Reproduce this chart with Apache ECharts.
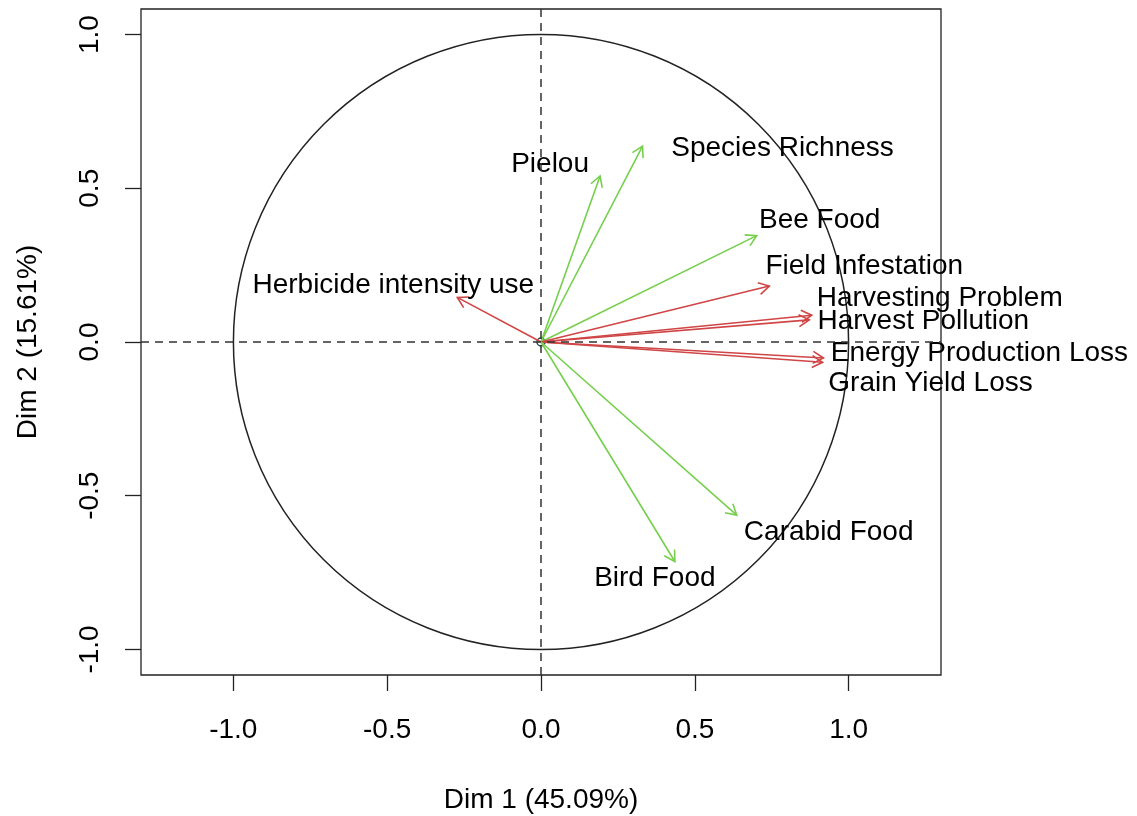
<!DOCTYPE html>
<html>
<head>
<meta charset="utf-8">
<title>Variables factor map</title>
<script src="https://cdn.jsdelivr.net/npm/echarts@6.0.0/dist/echarts.min.js"></script>
<style>
html, body { margin: 0; padding: 0; background: #fff; }
#main { width: 1137px; height: 816px; }
</style>
</head>
<body>
<div id="main"></div>
<script>
// variable coordinates on dim 1 / dim 2
var varNames = ['Pielou', 'Species Richness', 'Bee Food', 'Field Infestation', 'Harvesting Problem',
	'Harvest Pollution', 'Energy Production Loss', 'Grain Yield Loss', 'Herbicide intensity use',
	'Carabid Food', 'Bird Food']
var dim1 = [0.192, 0.330, 0.701, 0.742, 0.880, 0.872, 0.918, 0.915, -0.272, 0.636, 0.435]
var dim2 = [0.540, 0.637, 0.346, 0.182, 0.087, 0.072, -0.052, -0.066, 0.145, -0.563, -0.714]
var varGroup = ['bio', 'bio', 'bio', 'agro', 'agro', 'agro', 'agro', 'agro', 'agro', 'bio', 'bio']
var tickValues = [-1, -0.5, 0, 0.5, 1]
var xTitle = 'Dim 1 (45.09%)'
var yTitle = 'Dim 2 (15.61%)'

// where each label sits, in pixels from the arrow tip to the text centre
var labelShift = [[-50, -12], [140, 2], [63, -15], [95, -20], [128, -17], [114, 1],
	[156, -5], [108, 21], [-64, -12], [92, 17], [-20, 17]]

var groupColor = { bio: '#76cf4c', agro: '#d04545' }
var font = '"Liberation Sans", Arial, sans-serif'

var myChart = echarts.init(document.getElementById('main'))

var arrowData = dim1.map(function (x, i) { return [x, dim2[i], i] })

function renderArrow(params, api) {
	var i = api.value(2)
	var p0 = api.coord([0, 0])
	var p1 = api.coord([api.value(0), api.value(1)])
	var a = Math.atan2(p1[1] - p0[1], p1[0] - p0[0])
	var len = 12, spread = Math.PI / 6
	var h1 = [p1[0] - len * Math.cos(a - spread), p1[1] - len * Math.sin(a - spread)]
	var h2 = [p1[0] - len * Math.cos(a + spread), p1[1] - len * Math.sin(a + spread)]
	var col = groupColor[varGroup[i]]
	return {
		type: 'group',
		children: [
			{ type: 'line', shape: { x1: p0[0], y1: p0[1], x2: p1[0], y2: p1[1] },
				style: { stroke: col, lineWidth: 1.6 } },
			{ type: 'polyline', shape: { points: [h1, p1, h2] },
				style: { stroke: col, lineWidth: 1.6, fill: null } },
			{ type: 'text', x: p1[0] + labelShift[i][0], y: p1[1] + labelShift[i][1],
				style: { text: varNames[i], fill: '#000', fontSize: 28, fontFamily: font,
					align: 'center', verticalAlign: 'middle' } }
		]
	}
}

function renderCircle(params, api) {
	var c = api.coord([0, 0])
	var s = api.size([1, 1])
	return {
		type: 'group',
		children: [
			{ type: 'circle', shape: { cx: c[0], cy: c[1], r: (s[0] + s[1]) / 2 },
				style: { stroke: '#222', lineWidth: 1.5, fill: null } },
			{ type: 'circle', shape: { cx: c[0], cy: c[1], r: 4 },
				style: { stroke: '#1d4b4b', lineWidth: 1.5, fill: null } }
		]
	}
}

var axisText = { color: '#000', fontSize: 28, fontFamily: font }

var option = {
	animation: false,
	grid: { left: 141, right: 196, top: 9, bottom: 141, show: true, outerBoundsMode: 'none',
		borderColor: '#222', borderWidth: 1.3, backgroundColor: 'transparent' },
	xAxis: {
		type: 'value', min: -1.3, max: 1.3,
		name: xTitle, nameLocation: 'middle', nameGap: 111,
		nameTextStyle: axisText,
		axisLine: { show: false, onZero: false },
		splitLine: { show: false },
		axisTick: { show: true, inside: false, length: 16, customValues: tickValues,
			lineStyle: { color: '#222', width: 1.3 } },
		axisLabel: { customValues: tickValues, margin: 41, color: '#000', fontSize: 28, fontFamily: font,
			formatter: function (v) { return v.toFixed(1) } }
	},
	yAxis: {
		type: 'value', min: -1.083, max: 1.083,
		name: yTitle, nameLocation: 'middle', nameGap: 99,
		nameTextStyle: axisText,
		axisLine: { show: false, onZero: false },
		splitLine: { show: false },
		axisTick: { show: true, inside: false, length: 16, customValues: tickValues,
			lineStyle: { color: '#222', width: 1.3 } },
		axisLabel: { customValues: tickValues, margin: 37, rotate: 90, color: '#000', fontSize: 28, fontFamily: font,
			formatter: function (v) { return v.toFixed(1) } }
	},
	series: [
		{
			type: 'custom', renderItem: renderCircle, data: [[0, 0]], silent: true, clip: false,
			markLine: {
				silent: true, symbol: 'none', label: { show: false },
				lineStyle: { color: '#333', width: 1.5, type: [8, 6] },
				data: [{ xAxis: 0 }, { yAxis: 0 }]
			}
		},
		{ type: 'custom', renderItem: renderArrow, data: arrowData, silent: true, clip: false }
	]
}

myChart.setOption(option)
</script>
</body>
</html>
